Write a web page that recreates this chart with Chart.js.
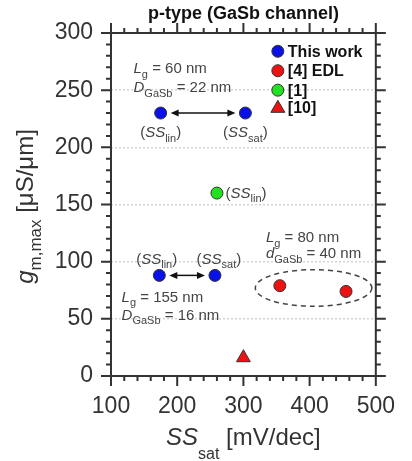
<!DOCTYPE html>
<html>
<head>
<meta charset="utf-8">
<script src="https://cdn.jsdelivr.net/npm/chart.js@4"></script>
<style>
  html, body { margin: 0; padding: 0; background: #fff; }
  #wrap { width: 412px; height: 461px; }
</style>
</head>
<body>
<div id="wrap"><canvas id="c" width="412" height="461"></canvas></div>
<script>
// values
const thisWorkX = [175, 303, 173, 257];
const thisWorkY = [230, 230, 88, 88];
const edlX = [355, 455];
const edlY = [79, 74];
const ref1X = [260];
const ref1Y = [160];
const ref10X = [300];
const ref10Y = [16];

const legendLabels = ['This work', '[4] EDL', '[1]', '[10]'];
const xTicks = [100, 200, 300, 400, 500];
const yTicks = [0, 50, 100, 150, 200, 250, 300];

const FONT = '"Liberation Sans", Arial, sans-serif';
const INK = '#333';

function pts(xs, ys) {
  return xs.map((x, i) => ({ x, y: ys[i] }));
}

// draw text made of segments: [text, 'n' | 'i' | 's']
function drawRich(ctx, x, y, segs, size, align, color, subSize, subDrop) {
  subSize = subSize || Math.round(size * 0.7);
  subDrop = subDrop || size * 0.3;
  const fontFor = (st) =>
    st === 'i' ? `italic ${size}px ${FONT}` : st === 's' ? `${subSize}px ${FONT}` : `${size}px ${FONT}`;
  let w = 0;
  segs.forEach(([t, st]) => {
    ctx.font = fontFor(st);
    w += ctx.measureText(t).width;
  });
  let cx = align === 'center' ? x - w / 2 : align === 'right' ? x - w : x;
  ctx.fillStyle = color || INK;
  ctx.textBaseline = 'alphabetic';
  ctx.textAlign = 'left';
  segs.forEach(([t, st]) => {
    ctx.font = fontFor(st);
    ctx.fillText(t, cx, st === 's' ? y + subDrop : y);
    cx += ctx.measureText(t).width;
  });
}

function arrowHead(ctx, x, y, dir) {
  ctx.beginPath();
  ctx.moveTo(x, y);
  ctx.lineTo(x - dir * 8, y - 3.5);
  ctx.lineTo(x - dir * 8, y + 3.5);
  ctx.closePath();
  ctx.fill();
}

function doubleArrow(ctx, x1, x2, y) {
  ctx.strokeStyle = '#111';
  ctx.fillStyle = '#111';
  ctx.lineWidth = 1.5;
  ctx.beginPath();
  ctx.moveTo(x1 + 4, y);
  ctx.lineTo(x2 - 4, y);
  ctx.stroke();
  arrowHead(ctx, x1, y, -1);
  arrowHead(ctx, x2, y, 1);
}

const decor = {
  id: 'decor',
  afterDatasetsDraw(chart) {
    const { ctx, chartArea: a, scales: { x, y } } = chart;
    const px = (v) => x.getPixelForValue(v);
    const py = (v) => y.getPixelForValue(v);
    ctx.save();

    // frame
    ctx.strokeStyle = INK;
    ctx.lineWidth = 2;
    ctx.strokeRect(a.left, a.top, a.right - a.left, a.bottom - a.top);

    // outward ticks on all four sides
    ctx.lineWidth = 2;
    ctx.beginPath();
    for (let v = 100; v <= 500; v += 20) {
      const len = v % 100 === 0 ? 10 : 5;
      const p = px(v);
      ctx.moveTo(p, a.bottom); ctx.lineTo(p, a.bottom + len);
      ctx.moveTo(p, a.top); ctx.lineTo(p, a.top - len);
    }
    for (let v = 0; v <= 300; v += 10) {
      const len = v % 50 === 0 ? 10 : 5;
      const p = py(v);
      ctx.moveTo(a.left, p); ctx.lineTo(a.left - len, p);
      ctx.moveTo(a.right, p); ctx.lineTo(a.right + len, p);
    }
    ctx.stroke();

    // title
    ctx.fillStyle = '#111';
    ctx.font = `bold 18px ${FONT}`;
    ctx.textAlign = 'center';
    ctx.textBaseline = 'alphabetic';
    ctx.fillText('p-type (GaSb channel)', (a.left + a.right) / 2, 19);

    // axis titles
    drawRich(ctx, (a.left + a.right) / 2, 445,
      [['SS', 'i'], ['sat', 's'], [' [mV/dec]', 'n']], 24, 'center', INK, 16, 14);
    ctx.save();
    ctx.translate(33, (a.top + a.bottom) / 2 + 2);
    ctx.rotate(-Math.PI / 2);
    drawRich(ctx, 0, 0, [['g', 'i'], ['m,max', 's'], [' [\u03bcS/\u03bcm]', 'n']], 24, 'center', INK, 17, 8);
    ctx.restore();

    // arrows between paired points
    doubleArrow(ctx, px(thisWorkX[0]) + 10, px(thisWorkX[1]) - 10, py(thisWorkY[0]));
    doubleArrow(ctx, px(thisWorkX[2]) + 10, px(thisWorkX[3]) - 10, py(thisWorkY[2]));

    // dashed ellipse around EDL points
    ctx.setLineDash([5, 4]);
    ctx.strokeStyle = '#444';
    ctx.lineWidth = 1.5;
    ctx.beginPath();
    ctx.ellipse(px(406), py(77), px(494) - px(406), py(61) - py(77), 0, 0, Math.PI * 2);
    ctx.stroke();
    ctx.setLineDash([]);

    // annotations
    const ann = (vx, vy, segs, align) => drawRich(ctx, px(vx), py(vy), segs, 15, align || 'left', '#444');
    ann(134, 265, [['L', 'i'], ['g', 's'], [' = 60 nm', 'n']]);
    ann(134, 248, [['D', 'i'], ['GaSb', 's'], [' = 22 nm', 'n']]);
    ann(thisWorkX[0], 209, [['(', 'n'], ['SS', 'i'], ['lin', 's'], [')', 'n']], 'center');
    ann(thisWorkX[1], 209, [['(', 'n'], ['SS', 'i'], ['sat', 's'], [')', 'n']], 'center');
    ann(273, 156, [['(', 'n'], ['SS', 'i'], ['lin', 's'], [')', 'n']]);
    ann(thisWorkX[2] - 4, 98, [['(', 'n'], ['SS', 'i'], ['lin', 's'], [')', 'n']], 'center');
    ann(thisWorkX[3] + 6, 98, [['(', 'n'], ['SS', 'i'], ['sat', 's'], [')', 'n']], 'center');
    ann(116, 65, [['L', 'i'], ['g', 's'], [' = 155 nm', 'n']]);
    ann(116, 49, [['D', 'i'], ['GaSb', 's'], [' = 16 nm', 'n']]);
    ann(334, 117, [['L', 'i'], ['g', 's'], [' = 80 nm', 'n']]);
    ann(334, 103, [['d', 'i'], ['GaSb', 's'], [' = 40 nm', 'n']]);

    // legend inside the plot, top right
    const rows = [284, 267, 250, 235];
    chart.data.datasets.forEach((ds, i) => {
      const cx = px(352), cy = py(rows[i]);
      ctx.fillStyle = ds.backgroundColor;
      ctx.strokeStyle = ds.borderColor;
      ctx.lineWidth = 1;
      ctx.beginPath();
      if (ds.pointStyle === 'triangle') {
        ctx.moveTo(cx, cy - 7);
        ctx.lineTo(cx + 7, cy + 5);
        ctx.lineTo(cx - 7, cy + 5);
        ctx.closePath();
      } else {
        ctx.arc(cx, cy, 6, 0, Math.PI * 2);
      }
      ctx.fill();
      ctx.stroke();
      ctx.fillStyle = '#111';
      ctx.font = `bold 16px ${FONT}`;
      ctx.textAlign = 'left';
      ctx.textBaseline = 'middle';
      ctx.fillText(legendLabels[i], cx + 10, cy + 1);
    });

    ctx.restore();
  }
};

new Chart(document.getElementById('c').getContext('2d'), {
  type: 'scatter',
  data: {
    datasets: [
      { label: legendLabels[0], data: pts(thisWorkX, thisWorkY), pointStyle: 'circle', pointRadius: 6,
        backgroundColor: '#0a10e8', borderColor: '#333', borderWidth: 1 },
      { label: legendLabels[1], data: pts(edlX, edlY), pointStyle: 'circle', pointRadius: 6,
        backgroundColor: '#ee1111', borderColor: '#333', borderWidth: 1 },
      { label: legendLabels[2], data: pts(ref1X, ref1Y), pointStyle: 'circle', pointRadius: 6,
        backgroundColor: '#22e022', borderColor: '#333', borderWidth: 1 },
      { label: legendLabels[3], data: pts(ref10X, ref10Y), pointStyle: 'triangle', pointRadius: 8,
        backgroundColor: '#ee1111', borderColor: '#333', borderWidth: 1 }
    ]
  },
  options: {
    responsive: false,
    animation: false,
    layout: { padding: { top: 33, right: 33, left: 0, bottom: 0 } },
    plugins: { legend: { display: false }, tooltip: { enabled: false }, title: { display: false } },
    scales: {
      x: {
        type: 'linear', min: 100, max: 500,
        afterBuildTicks: (s) => { s.ticks = xTicks.map((v) => ({ value: v })); },
        afterFit: (s) => { s.height = 85; },
        ticks: { color: INK, font: { family: FONT, size: 23 }, padding: 17 },
        grid: { display: false, drawTicks: false },
        border: { display: false }
      },
      y: {
        type: 'linear', min: 0, max: 300,
        afterBuildTicks: (s) => { s.ticks = yTicks.map((v) => ({ value: v })); },
        afterFit: (s) => { s.width = 111; },
        ticks: { color: INK, font: { family: FONT, size: 23 }, padding: 18 },
        grid: {
          drawTicks: false,
          lineWidth: 1.5,
          color: (c) => (c.tick && (c.tick.value === 0 || c.tick.value === 300) ? 'rgba(0,0,0,0)' : '#d4d4d4'),
          borderDash: [2, 2]
        },
        border: { display: false, dash: [2, 2] }
      }
    }
  },
  plugins: [decor]
});
</script>
</body>
</html>
